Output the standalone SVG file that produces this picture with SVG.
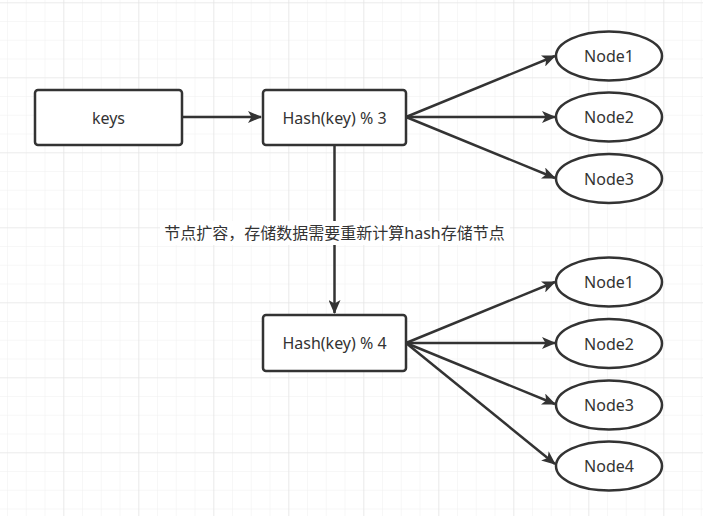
<svg xmlns="http://www.w3.org/2000/svg" width="703" height="516" viewBox="0 0 703 516">
<style>
.box{fill:#fff;stroke:#333;stroke-width:2.5}
.ell{fill:#fff;stroke:#333;stroke-width:2.5}
.lbl{font-family:"Noto Sans","Noto Sans CJK SC",sans-serif;font-size:16px;fill:#333;text-anchor:middle;dominant-baseline:central}
.edge{stroke:#333;stroke-width:2.5;fill:none}
</style>
<defs>
<pattern id="minor" x="7.05" y="2.3" width="18.75" height="18.75" patternUnits="userSpaceOnUse">
<path d="M0,0 H18.75 M0,0 V18.75" stroke="#f0f0f0" stroke-width="1" fill="none"/>
</pattern>
<pattern id="major" x="-11.7" y="2.3" width="75" height="75" patternUnits="userSpaceOnUse">
<path d="M0,0 H75 M0,0 V75" stroke="#e3e3e3" stroke-width="1.2" fill="none"/>
</pattern>
<marker id="arr" viewBox="0 0 14 12" refX="13" refY="6" markerWidth="14" markerHeight="12" markerUnits="userSpaceOnUse" orient="auto">
<path d="M0,0 L14,6 L0,12 L3.5,6 z" fill="#333"/>
</marker>
</defs>
<rect width="703" height="516" fill="#fff"/>
<rect width="703" height="516" fill="url(#minor)"/>
<rect width="703" height="516" fill="url(#major)"/>

<g id="connectors">
<line class="edge" x1="182" y1="117" x2="261" y2="117" marker-end="url(#arr)"/>
<line class="edge" x1="406" y1="117" x2="555" y2="56" marker-end="url(#arr)"/>
<line class="edge" x1="406" y1="117" x2="555" y2="117" marker-end="url(#arr)"/>
<line class="edge" x1="406" y1="117" x2="555" y2="178" marker-end="url(#arr)"/>
<line class="edge" x1="334.5" y1="145" x2="334.5" y2="313" marker-end="url(#arr)"/>
<line class="edge" x1="406" y1="343" x2="555" y2="282" marker-end="url(#arr)"/>
<line class="edge" x1="406" y1="343" x2="555" y2="343" marker-end="url(#arr)"/>
<line class="edge" x1="406" y1="343" x2="555" y2="404" marker-end="url(#arr)"/>
<line class="edge" x1="406" y1="343" x2="555" y2="464" marker-end="url(#arr)"/>
<g id="edge-label">
<rect x="160" y="221" width="350" height="24" fill="#fff"/>
<text class="lbl" x="334.5" y="233">节点扩容，存储数据需要重新计算hash存储节点</text>
</g>
</g>

<g id="keys"><rect class="box" x="35" y="90" width="147" height="55" rx="3"/><text class="lbl" x="108.5" y="117.5">keys</text></g>
<g id="hash3"><rect class="box" x="263" y="90" width="143" height="55" rx="3"/><text class="lbl" x="334.5" y="117.5">Hash(key) % 3</text></g>
<g id="hash4"><rect class="box" x="263" y="315" width="143" height="56" rx="3"/><text class="lbl" x="334.5" y="343">Hash(key) % 4</text></g>

<g id="a-node1"><ellipse class="ell" cx="609" cy="56" rx="53" ry="24.5"/><text class="lbl" x="609" y="56">Node1</text></g>
<g id="a-node2"><ellipse class="ell" cx="609" cy="117" rx="53" ry="24.5"/><text class="lbl" x="609" y="117">Node2</text></g>
<g id="a-node3"><ellipse class="ell" cx="609" cy="178.5" rx="53" ry="24.5"/><text class="lbl" x="609" y="178.5">Node3</text></g>

<g id="b-node1"><ellipse class="ell" cx="609" cy="282" rx="53" ry="24.5"/><text class="lbl" x="609" y="282">Node1</text></g>
<g id="b-node2"><ellipse class="ell" cx="609" cy="343.5" rx="53" ry="24.5"/><text class="lbl" x="609" y="343.5">Node2</text></g>
<g id="b-node3"><ellipse class="ell" cx="609" cy="405" rx="53" ry="24.5"/><text class="lbl" x="609" y="405">Node3</text></g>
<g id="b-node4"><ellipse class="ell" cx="609" cy="466" rx="53" ry="24.5"/><text class="lbl" x="609" y="466">Node4</text></g>
</svg>
